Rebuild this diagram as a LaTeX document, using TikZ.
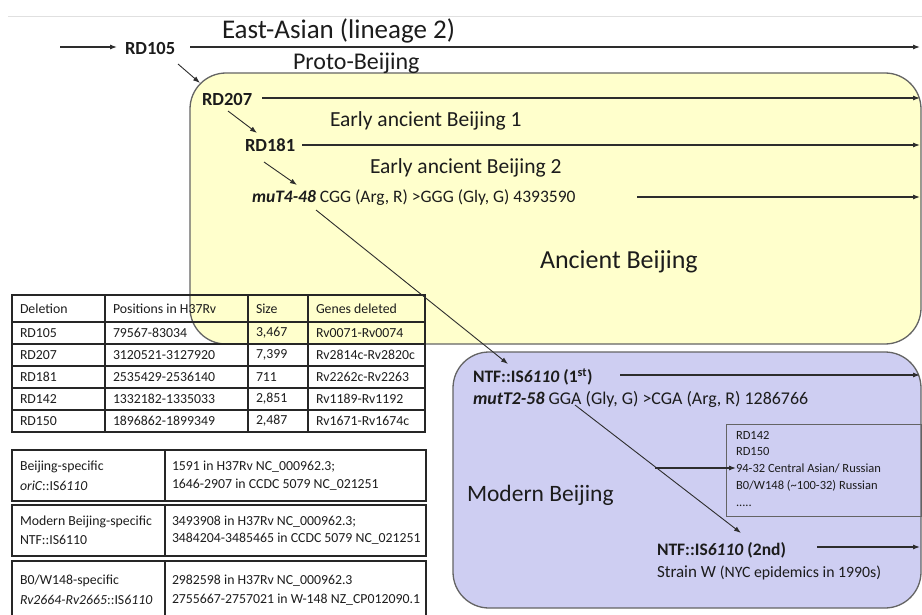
\documentclass[tikz,border=0pt]{standalone}
\usepackage{fontspec}
\setmainfont{Carlito}
\usetikzlibrary{arrows.meta,calc}
\definecolor{ancientfill}{RGB}{255,255,204}
\definecolor{modernfill}{RGB}{206,206,242}
\definecolor{boxline}{RGB}{100,100,100}
\definecolor{arrowgray}{RGB}{45,45,45}
\definecolor{inktext}{RGB}{28,28,28}
\newcommand{\setfs}[1]{\fontsize{#1}{#1}\selectfont}
\begin{document}
\begin{tikzpicture}[x=1pt,y=-1pt,
  every node/.style={inner sep=0pt,outer sep=0pt,anchor=west,text=inktext},
  arr/.style={draw=arrowgray,line width=1.1pt,-{Latex[length=7pt,width=5pt]}},
  diag/.style={draw=arrowgray,line width=0.9pt,-{Latex[length=7pt,width=5pt]}},
  clade/.style={draw=boxline,line width=1.3pt,rounded corners=36pt},
  lineage/.style={font=\setfs{27}},
  sublineage/.style={font=\setfs{21.5}},
  rdlabel/.style={font=\setfs{18.5}\bfseries},
  snp/.style={font=\setfs{17.5}},
  tabtext/.style={font=\setfs{13.8}},
  listtext/.style={font=\setfs{12.5},align=left,anchor=north west},
  grid/.style={draw=black!85,line width=1.2pt}
]
\useasboundingbox (0,0) rectangle (922,615);
\draw[black!12,line width=0.8pt] (8,16) -- (922,16);

% lineage boxes
\draw[clade,fill=ancientfill] (190,73) rectangle (921,344);
\draw[clade,fill=modernfill] (453,352) rectangle (921,608);
\draw[draw=boxline,line width=0.9pt] (726,424) rectangle (921,516);

% deletion table
\draw[grid] (12,295) rectangle (425,432);
\foreach \yy in {322,344,366,388,410} \draw[grid] (12,\yy) -- (425,\yy);
\foreach \xx in {105,248,308} \draw[grid] (\xx,295) -- (\xx,432);
\node[tabtext] (h1) at (20,309) {Deletion};
\node[tabtext] (h2) at (113,309) {Positions in H37Rv};
\node[tabtext] (h3) at (256,309) {Size};
\node[tabtext] (h4) at (316,309) {Genes deleted};
\node[tabtext] (r1a) at (20,333) {RD105};
\node[tabtext] (r1b) at (113,333) {79567-83034};
\node[tabtext] (r1c) at (256,333) {3,467};
\node[tabtext] (r1d) at (316,333) {Rv0071-Rv0074};
\node[tabtext] (r2a) at (20,355) {RD207};
\node[tabtext] (r2b) at (113,355) {3120521-3127920};
\node[tabtext] (r2c) at (256,355) {7,399};
\node[tabtext] (r2d) at (316,355) {Rv2814c-Rv2820c};
\node[tabtext] (r3a) at (20,377) {RD181};
\node[tabtext] (r3b) at (113,377) {2535429-2536140};
\node[tabtext] (r3c) at (256,377) {711};
\node[tabtext] (r3d) at (316,377) {Rv2262c-Rv2263};
\node[tabtext] (r4a) at (20,399) {RD142};
\node[tabtext] (r4b) at (113,399) {1332182-1335033};
\node[tabtext] (r4c) at (256,399) {2,851};
\node[tabtext] (r4d) at (316,399) {Rv1189-Rv1192};
\node[tabtext] (r5a) at (20,421) {RD150};
\node[tabtext] (r5b) at (113,421) {1896862-1899349};
\node[tabtext] (r5c) at (256,421) {2,487};
\node[tabtext] (r5d) at (316,421) {Rv1671-Rv1674c};

% insertion tables
\draw[grid] (12,450) rectangle (426,501);
\draw[grid] (165,450) -- (165,501);
\draw[grid] (12,505) rectangle (426,556);
\draw[grid] (165,505) -- (165,556);
\draw[grid] (12,561) rectangle (426,616);
\draw[grid] (165,561) -- (165,616);
\node[tabtext] (i1a) at (20,467) {Beijing-specific};
\node[tabtext] (i1b) at (20,486) {\itshape oriC\upshape::IS\itshape 6110};
\node[tabtext] (i1c) at (172,467) {1591 in H37Rv NC\_000962.3;};
\node[tabtext] (i1d) at (172,485) {1646-2907 in CCDC 5079 NC\_021251};
\node[tabtext] (i2a) at (20,522) {Modern Beijing-specific};
\node[tabtext] (i2b) at (20,540) {NTF::IS6110};
\node[tabtext] (i2c) at (172,522) {3493908 in H37Rv NC\_000962.3;};
\node[tabtext] (i2d) at (172,539) {3484204-3485465 in CCDC 5079 NC\_021251};
\node[tabtext] (i3a) at (20,581) {B0/W148-specific};
\node[tabtext] (i3b) at (20,600) {\itshape Rv2664-Rv2665\upshape::IS\itshape 6110};
\node[tabtext] (i3c) at (172,581) {2982598 in H37Rv NC\_000962.3};
\node[tabtext] (i3d) at (172,600) {2755667-2757021 in W-148 NZ\_CP012090.1};

% clade labels
\node[lineage] (eastasian) at (222,31) {East-Asian (lineage 2)};
\node[sublineage,font=\setfs{24}] (proto) at (293,63) {Proto-Beijing};
\node[sublineage] (early1) at (330,121) {Early ancient Beijing 1};
\node[sublineage] (early2) at (370,168) {Early ancient Beijing 2};
\node[font=\setfs{26}] (ancient) at (540,262) {Ancient Beijing};
\node[font=\setfs{23.5}] (modern) at (467,495) {Modern Beijing};

% markers
\node[rdlabel] (rd105) at (125,48) {RD105};
\node[rdlabel] (rd207) at (202,99) {RD207};
\node[rdlabel] (rd181) at (245,145) {RD181};
\node[snp,font=\setfs{17.5}\bfseries\itshape] (mut4) at (252,197) {muT4-48};
\node[snp,anchor=base west] (mut4txt) at ([xshift=4pt]mut4.base east) {CGG (Arg, R) >GGG (Gly, G) 4393590};
\node[snp,font=\setfs{17.5}\bfseries] (ntf1) at (473,377) {NTF::IS\textit{6110} (1\textsuperscript{st})};
\node[snp,font=\setfs{17.9}\bfseries\itshape] (mut2) at (473,398) {mutT2-58};
\node[snp,font=\setfs{17.9},anchor=base west] (mut2txt) at ([xshift=4pt]mut2.base east) {GGA (Gly, G) >CGA (Arg, R) 1286766};
\node[listtext] (sublist) at (736,431) {RD142\\[4.3pt]RD150\\[4.3pt]94-32 Central Asian/ Russian\\[4.3pt]B0/W148 (\textasciitilde100-32) Russian\\[4.3pt].....};
\node[snp,font=\setfs{17.5}\bfseries] (ntf2) at (657,550) {NTF::IS\textit{6110} (2nd)};
\node[snp,font=\setfs{17}] (strainw) at (657,573) {Strain W {\setfs{15.8}(NYC epidemics in 1990s)}};

% free ends of the branch arrows
\coordinate (root) at (60,47);
\coordinate (endEA) at (920,47);
\coordinate (end207) at (920,98);
\coordinate (end181) at (920,145);
\coordinate (endmut4) at (920,197);
\coordinate (endntf1) at (920,375);
\coordinate (endntf2) at (920,547);

% branch arrows
\draw[arr] (root) -- ([xshift=-8pt,yshift=1pt]rd105.west);
\draw[arr] ($(rd105.west)+(65,-1)$) -- (endEA);
\draw[arr] ($(rd207.west)+(60,-1)$) -- (end207);
\draw[arr] ($(rd181.west)+(57,0)$) -- (end181);
\draw[arr] ($(mut4.west)+(385,0)$) -- (endmut4);
\draw[arr] ($(ntf1.west)+(147,-2)$) -- (endntf1);
\draw[arr] ($(ntf2.west)+(160,-3)$) -- (endntf2);
\draw[arr] ($(mut2.west)+(182,70)$) -- (sublist.west |- 0,468);

% descent arrows
\draw[diag] ($(rd105.west)+(53,16)$) -- ($(rd207.west)+(-2,-16)$);
\draw[diag] ($(rd207.west)+(26,12)$) -- ($(rd181.west)+(12,-12)$);
\draw[diag] ($(rd181.west)+(19,17)$) -- ($(mut4.west)+(45,-12)$);
\draw[diag] ($(mut4.west)+(64,13)$) -- ($(ntf1.west)+(35,-13)$);
\draw[diag] ($(mut2.west)+(102,7)$) -- ($(ntf2.west)+(84,-17)$);
\end{tikzpicture}
\end{document}
